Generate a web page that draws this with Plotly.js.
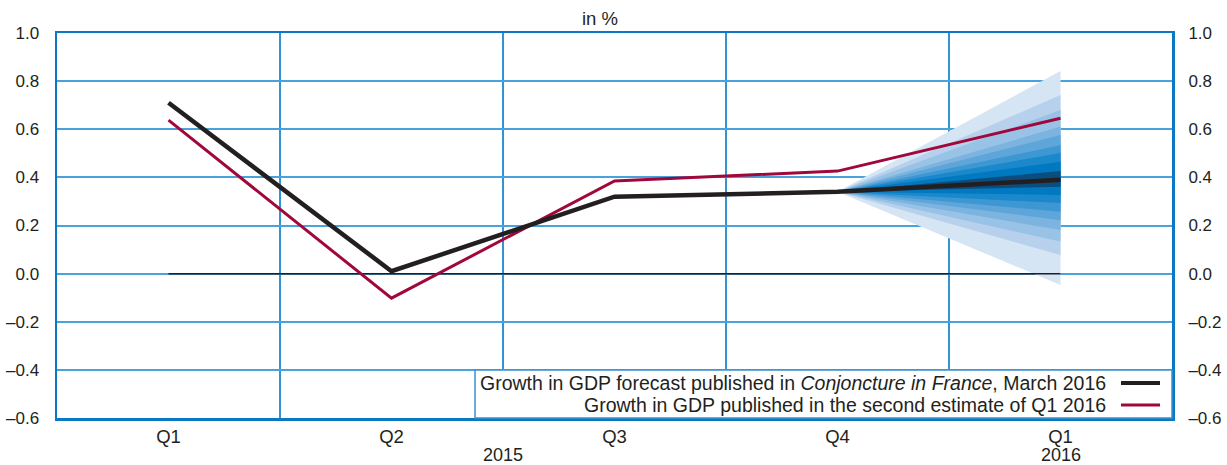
<!DOCTYPE html>
<html>
<head>
<meta charset="utf-8">
<script src="https://cdn.plot.ly/plotly-3.0.1.min.js"></script>
<style>html,body{margin:0;padding:0;background:#fff;}#chart{width:1227px;height:465px;}</style>
</head>
<body>
<div id="chart"></div>
<script>
// ---- data ----
const quarters = ["Q1", "Q2", "Q3", "Q4", "Q1"];
const years = ["2015", "2016"];
const forecastMarch2016 = [0.71, 0.01, 0.32, 0.34, 0.39];
const secondEstimateQ1 = [0.638, -0.102, 0.385, 0.426, 0.646];
const baseline = [0, 0, 0, 0, 0];
// fan chart intervals for Q1 2016, from inner (darkest) to outer (lightest)
const fanUpper = [0.426, 0.465, 0.501, 0.534, 0.576, 0.611, 0.680, 0.742, 0.842];
const fanLower = [0.361, 0.327, 0.293, 0.257, 0.222, 0.181, 0.133, 0.077, -0.047];
const yTickVals = [-0.6, -0.4, -0.2, 0.0, 0.2, 0.4, 0.6, 0.8, 1.0];
const yTickText = ["\u20130.6", "\u20130.4", "\u20130.2", "0.0", "0.2", "0.4", "0.6", "0.8", "1.0"];
const legendLabels = [
  "Growth in GDP forecast published in <i>Conjoncture in France</i>, March 2016",
  "Growth in GDP published in the second estimate of Q1 2016"
];
const unitLabel = "in %";

// ---- styles ----
const fanColors = ["#0b4d7e", "#0079c0", "#1a88cb", "#3d97d3", "#5ea6da", "#7cb4df", "#99c3e6", "#b7d1ec", "#d5e5f4"];
const blackCol = "#231f20";
const redCol = "#a0083c";
const frameCol = "#0a78c2";
const gridCol = "#3393d5";
const hGridCol = "#4aa2dc";
const textCol = "#231f20";
const font = "Liberation Sans, Arial, Helvetica, sans-serif";
const legSize = 19.5;
const bigSize = 18.5;
const tickSize = 17;

const xIdx = quarters.map((_, i) => i);
const traces = [];

// fan: draw outer (lightest) first
const startIdx = 3, endIdx = 4;
for (let k = fanUpper.length - 1; k >= 0; k--) {
  traces.push({
    x: [xIdx[startIdx], xIdx[endIdx], xIdx[endIdx], xIdx[startIdx]],
    y: [forecastMarch2016[startIdx], fanUpper[k], fanLower[k], forecastMarch2016[startIdx]],
    type: "scatter", mode: "lines", fill: "toself",
    fillcolor: fanColors[k], line: {width: 0, color: fanColors[k]},
    hoverinfo: "skip", showlegend: false
  });
}
traces.push({x: xIdx, y: baseline, type: "scatter", mode: "lines",
  line: {color: blackCol, width: 1.5}, hoverinfo: "skip", showlegend: false});
traces.push({x: xIdx, y: secondEstimateQ1, type: "scatter", mode: "lines",
  line: {color: redCol, width: 3}, showlegend: false});
traces.push({x: xIdx, y: forecastMarch2016, type: "scatter", mode: "lines",
  line: {color: blackCol, width: 4.5}, showlegend: false});
// invisible trace to activate right axis
traces.push({x: xIdx, y: baseline, yaxis: "y2", type: "scatter", mode: "lines",
  line: {width: 0, color: "rgba(0,0,0,0)"}, hoverinfo: "skip", showlegend: false});

const L = 57, R = 1172, T = 33, B = 418;
const px = v => (v - L) / (R - L);
const py = v => (B - v) / (B - T);

const annotations = [
  {text: unitLabel, xref: "paper", yref: "paper", x: px(600), y: py(18), xanchor: "center", yanchor: "middle",
   showarrow: false, font: {family: font, size: bigSize, color: textCol}},
  {text: years[0], xref: "x", yref: "paper", x: 1.5, y: py(455), xanchor: "center", yanchor: "middle",
   showarrow: false, font: {family: font, size: 18, color: textCol}},
  {text: years[1], xref: "x", yref: "paper", x: 4, y: py(455), xanchor: "center", yanchor: "middle",
   showarrow: false, font: {family: font, size: 18, color: textCol}},
  {text: legendLabels[0], xref: "paper", yref: "paper", x: px(1108), y: py(383), xanchor: "right", yanchor: "middle",
   showarrow: false, font: {family: font, size: legSize, color: textCol}},
  {text: legendLabels[1], xref: "paper", yref: "paper", x: px(1108), y: py(405), xanchor: "right", yanchor: "middle",
   showarrow: false, font: {family: font, size: legSize, color: textCol}}
];

const shapes = [
  {type: "rect", xref: "paper", yref: "paper", x0: px(475), x1: 1, y0: 0, y1: py(370),
   fillcolor: "#ffffff", line: {color: "#3a92d2", width: 1.5}, layer: "above"},
  {type: "line", xref: "paper", yref: "paper", x0: px(1121), x1: px(1160), y0: py(383), y1: py(383),
   line: {color: blackCol, width: 4}, layer: "above"},
  {type: "line", xref: "paper", yref: "paper", x0: px(1121), x1: px(1160), y0: py(405), y1: py(405),
   line: {color: redCol, width: 3}, layer: "above"}
];

const layout = {
  width: 1227, height: 465,
  margin: {l: L, r: 1227 - R, t: T, b: 465 - B, pad: 0},
  paper_bgcolor: "#ffffff", plot_bgcolor: "#ffffff",
  showlegend: false,
  font: {family: font, size: 16, color: textCol},
  xaxis: {
    range: [-0.5, 4.5], tickmode: "array", tickvals: xIdx, ticktext: quarters,
    showgrid: false, zeroline: false,
    ticks: "",
    minor: {tick0: 0.5, dtick: 1, showgrid: true, gridcolor: gridCol, gridwidth: 1.3, ticks: ""},
    showline: true, mirror: true, linecolor: frameCol, linewidth: 2.5,
    tickfont: {family: font, size: bigSize, color: textCol}, fixedrange: true
  },
  yaxis: {
    range: [-0.6, 1.0], tickmode: "array", tickvals: yTickVals, ticktext: yTickText,
    showgrid: true, gridcolor: hGridCol, gridwidth: 2, zeroline: false,
    ticks: "outside", ticklen: 12, tickcolor: "rgba(0,0,0,0)",
    showline: true, mirror: true, linecolor: frameCol, linewidth: 2.5,
    tickfont: {family: font, size: tickSize, color: textCol}, fixedrange: true
  },
  yaxis2: {
    range: [-0.6, 1.0], overlaying: "y", side: "right", anchor: "x",
    tickmode: "array", tickvals: yTickVals, ticktext: yTickText,
    showgrid: false, zeroline: false, showline: false,
    ticks: "outside", ticklen: 12, tickcolor: "rgba(0,0,0,0)",
    tickfont: {family: font, size: tickSize, color: textCol}, fixedrange: true
  },
  annotations: annotations,
  shapes: shapes
};

Plotly.newPlot("chart", traces, layout, {staticPlot: true, displayModeBar: false});
</script>
</body>
</html>
